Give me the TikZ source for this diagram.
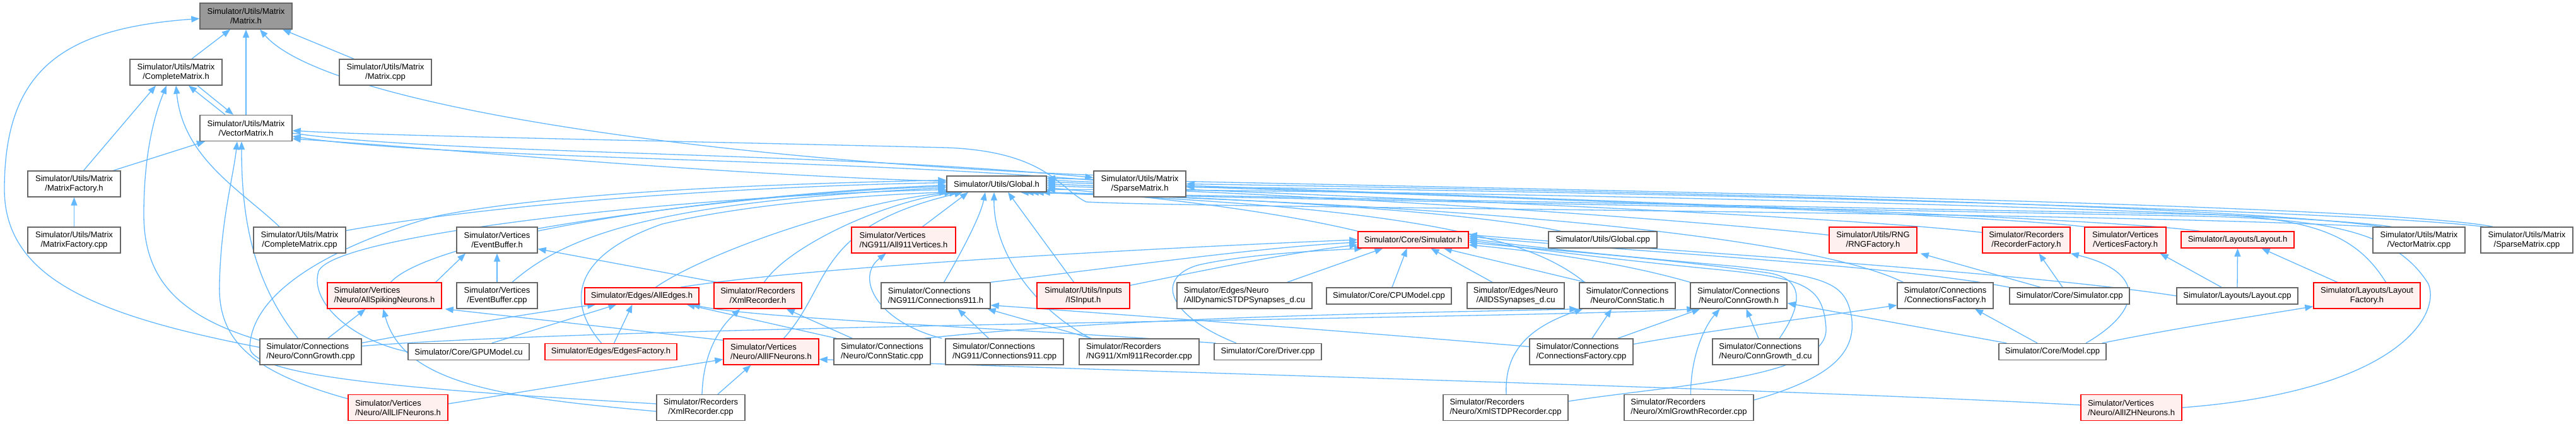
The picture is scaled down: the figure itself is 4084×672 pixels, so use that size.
\documentclass[tikz,border=0pt]{standalone}
\usepackage{fontspec}
\setmainfont{Liberation Sans}
\usetikzlibrary{arrows.meta,calc}
\definecolor{edgec}{HTML}{63B8FF}
\definecolor{boxb}{HTML}{666666}
\definecolor{redb}{HTML}{FF0000}
\definecolor{redf}{HTML}{FFF0F0}
\definecolor{grayf}{HTML}{999999}
\pgfdeclarelayer{edgelayer}
\pgfsetlayers{edgelayer,main}
\begin{document}
\begin{tikzpicture}[x=0.5pt,y=-0.5pt,
  nb/.style={draw=boxb, fill=white, line width=0.7pt, inner sep=0pt, font=\fontsize{6.5}{7.5}\selectfont, align=center, text=black, minimum height=20.5pt},
  rb/.style={nb, draw=redb, fill=redf},
  gb/.style={nb, fill=grayf},
  one/.style={minimum height=13pt},
  L/.style={align=left},
  e/.style={draw=edgec, line width=0.65pt, -{Triangle[length=6.5pt,width=5pt]}},
]
\useasboundingbox (0,0) rectangle (4084,672);

% Row 1-4
\node[gb,minimum width=73pt] (mh) at (390,25.5) {Simulator/Utils/Matrix\\/Matrix.h};
\node[nb,minimum width=73pt] (cmh) at (279,114.5) {Simulator/Utils/Matrix\\/CompleteMatrix.h};
\node[nb,minimum width=73pt] (mcpp) at (611,114.5) {Simulator/Utils/Matrix\\/Matrix.cpp};
\node[nb,minimum width=73pt] (vmh) at (390,203) {Simulator/Utils/Matrix\\/VectorMatrix.h};
\node[nb,minimum width=73.5pt] (mfh) at (117.5,291.5) {Simulator/Utils/Matrix\\/MatrixFactory.h};
\node[nb,one,minimum width=79pt,minimum height=12.5pt] (gh) at (1580,291.5) {Simulator/Utils/Global.h};
\node[nb,minimum width=73pt] (smh) at (1807,291.5) {Simulator/Utils/Matrix\\/SparseMatrix.h};
% Row 5
\node[nb,minimum width=73.5pt] (mfcpp) at (117.5,380.5) {Simulator/Utils/Matrix\\/MatrixFactory.cpp};
\node[nb,minimum width=73pt] (cmcpp) at (475,380.5) {Simulator/Utils/Matrix\\/CompleteMatrix.cpp};
\node[nb,minimum width=64pt] (ebh) at (788,380.5) {Simulator/Vertices\\/EventBuffer.h};
\node[rb,L,minimum width=82.5pt] (a911h) at (1432.5,380.5) {Simulator/Vertices\\/NG911/All911Vertices.h};
\node[rb,one,minimum width=87.5pt] (simh) at (2240.5,380) {Simulator/Core/Simulator.h};
\node[nb,one,minimum width=86pt] (gcpp) at (2541,380) {Simulator/Utils/Global.cpp};
\node[rb,minimum width=69.5pt] (rngh) at (2969.5,380.5) {Simulator/Utils/RNG\\/RNGFactory.h};
\node[rb,minimum width=69.5pt] (rfh) at (3212.5,380.5) {Simulator/Recorders\\/RecorderFactory.h};
\node[rb,minimum width=64.5pt] (vfh) at (3369.5,380.5) {Simulator/Vertices\\/VerticesFactory.h};
\node[rb,one,minimum width=89.5pt] (layh) at (3547.5,380) {Simulator/Layouts/Layout.h};
\node[nb,minimum width=73pt] (vmcpp) at (3835,380.5) {Simulator/Utils/Matrix\\/VectorMatrix.cpp};
\node[nb,minimum width=73pt] (smcpp) at (4006,380.5) {Simulator/Utils/Matrix\\/SparseMatrix.cpp};
% Row 6
\node[rb,L,minimum width=90.5pt] (asnh) at (609.5,468.5) {Simulator/Vertices\\/Neuro/AllSpikingNeurons.h};
\node[nb,minimum width=64pt] (ebcpp) at (788,468.5) {Simulator/Vertices\\/EventBuffer.cpp};
\node[rb,one,minimum width=90.5pt] (aeh) at (1017.5,469) {Simulator/Edges/AllEdges.h};
\node[rb,minimum width=69.5pt] (xrh) at (1201.5,468.5) {Simulator/Recorders\\/XmlRecorder.h};
\node[nb,L,minimum width=86.5pt] (c911h) at (1483.5,468.5) {Simulator/Connections\\/NG911/Connections911.h};
\node[rb,minimum width=73.5pt] (ish) at (1717.5,468.5) {Simulator/Utils/Inputs\\/ISInput.h};
\node[nb,L,minimum width=107pt] (adstdp) at (1973,468.5) {Simulator/Edges/Neuro\\/AllDynamicSTDPSynapses\_d.cu};
\node[nb,one,minimum width=99pt] (cpucpp) at (2202,469) {Simulator/Core/CPUModel.cpp};
\node[nb,minimum width=77pt] (adsd) at (2403,468.5) {Simulator/Edges/Neuro\\/AllDSSynapses\_d.cu};
\node[nb,minimum width=76pt] (csh) at (2580,468.5) {Simulator/Connections\\/Neuro/ConnStatic.h};
\node[nb,minimum width=76.5pt] (cgh) at (2756.5,468.5) {Simulator/Connections\\/Neuro/ConnGrowth.h};
\node[nb,minimum width=76pt] (cfh) at (3084,468.5) {Simulator/Connections\\/ConnectionsFactory.h};
\node[nb,one,minimum width=95pt] (simcpp) at (3281,469) {Simulator/Core/Simulator.cpp};
\node[nb,one,minimum width=96pt] (laycpp) at (3547,469) {Simulator/Layouts/Layout.cpp};
\node[rb,minimum width=84.5pt] (lfh) at (3752.5,468.5) {Simulator/Layouts/Layout\\Factory.h};
% Row 7
\node[nb,L,minimum width=80.5pt] (cgcpp) at (492.5,557.5) {Simulator/Connections\\/Neuro/ConnGrowth.cpp};
\node[nb,one,minimum width=96pt] (gpucu) at (743,557.5) {Simulator/Core/GPUModel.cu};
\node[rb,one,minimum width=104.5pt] (efh) at (968.5,557.5) {Simulator/Edges/EdgesFactory.h};
\node[rb,L,minimum width=75.5pt] (aifh) at (1222.5,557.5) {Simulator/Vertices\\/Neuro/AllIFNeurons.h};
\node[nb,L,minimum width=76.5pt] (cscpp) at (1398.5,557.5) {Simulator/Connections\\/Neuro/ConnStatic.cpp};
\node[nb,L,minimum width=93.5pt] (c911cpp) at (1592.5,557.5) {Simulator/Connections\\/NG911/Connections911.cpp};
\node[nb,L,minimum width=95pt] (x911cpp) at (1806,557.5) {Simulator/Recorders\\/NG911/Xml911Recorder.cpp};
\node[nb,one,minimum width=85pt] (drvcpp) at (2010,557.5) {Simulator/Core/Driver.cpp};
\node[nb,L,minimum width=82pt] (cfcpp) at (2507,557.5) {Simulator/Connections\\/ConnectionsFactory.cpp};
\node[nb,L,minimum width=84pt] (cgdcu) at (2799,557.5) {Simulator/Connections\\/Neuro/ConnGrowth\_d.cu};
\node[nb,one,minimum width=85pt] (modcpp) at (3254,557.5) {Simulator/Core/Model.cpp};
% Row 8
\node[rb,L,minimum width=79pt] (alifh) at (631,646) {Simulator/Vertices\\/Neuro/AllLIFNeurons.h};
\node[nb,minimum width=70pt] (xrcpp) at (1111,646) {Simulator/Recorders\\/XmlRecorder.cpp};
\node[nb,L,minimum width=99pt] (xstdp) at (2387,646) {Simulator/Recorders\\/Neuro/XmlSTDPRecorder.cpp};
\node[nb,L,minimum width=102.5pt] (xgrow) at (2677.5,646) {Simulator/Recorders\\/Neuro/XmlGrowthRecorder.cpp};
\node[rb,L,minimum width=80pt] (aizhh) at (3379,646) {Simulator/Vertices\\/Neuro/AllIZHNeurons.h};

\begin{pgfonlayer}{edgelayer}
\fill[white] (0,0) rectangle (4084,672);
% ---- Matrix cluster
\draw[e] ($(cmh.north)+(25,0)$) -- ($(mh.south)+(-25,0)$);
\draw[e] (vmh.north) -- (mh.south);
\draw[e] ($(mcpp.north)+(-50,0)$) -- ($(mh.south)+(58,0)$);
\draw[e] ($(smh.west)+(0,-14)$) .. controls (1150,255) and (520,170) .. ($(mh.south)+(22,0)$);
\draw[e] ($(cgcpp.west)+(0,-7)$) .. controls (150,500) and (7,440) .. (7,300) .. controls (7,110) and (100,45) .. ($(mh.west)+(0,4)$);
\draw[e] ($(vmh.north)+(-33,0)$) -- ($(cmh.south)+(20,0)$);
\draw[e] ($(cmh.south)+(34,0)$) -- ($(vmh.north)+(-20,0)$);
\draw[e] ($(mfh.north)+(15,0)$) -- ($(cmh.south)+(-32,0)$);
\draw[e] ($(mfh.north)+(62,0)$) -- ($(vmh.south)+(-65,0)$);
\draw[e] ($(cgcpp.north west)+(0,3)$) .. controls (280,500) and (228,440) .. (228,340) .. controls (228,230) and (250,170) .. ($(cmh.south)+(-15,0)$);
\draw[e] ($(cmcpp.north)+(-32,0)$) .. controls (380,300) and (290,250) .. (cmh.south);
\draw[e] (mfcpp.north) -- (mfh.south);
\draw[e] ($(cgcpp.north)+(-20,0)$) .. controls (395,440) and (383,330) .. ($(vmh.south)+(-7,0)$);
\draw[e] ($(alifh.west)+(0,-14)$) .. controls (400,590) and (345,540) .. (348,450) .. controls (350,350) and (370,280) .. ($(vmh.south)+(-14,0)$);
\draw[e] ($(vmh.east)+(0,8)$) .. controls (700,245) and (1300,240) .. ($(smh.west)+(0,-10)$);
\draw[e] ($(smh.west)+(0,-6)$) .. controls (1300,250) and (700,252) .. ($(vmh.east)+(0,13)$);
\draw[e] ($(gh.west)+(0,-4)$) .. controls (1100,275) and (700,235) .. ($(vmh.east)+(0,17)$);
\draw[e] (vmcpp.north west) .. controls (3300,335) and (1900,330) .. (1722,320) .. controls (1680,300) and (1660,240) .. (1500,234) .. controls (1000,222) and (600,215) .. ($(vmh.east)+(0,4)$);
\draw[e] ($(vmcpp.north west)+(15,0)$) .. controls (3500,320) and (2300,298) .. (smh.east);
\draw[e] ($(smcpp.north west)+(5,0)$) .. controls (3700,330) and (2400,300) .. ($(smh.east)+(0,5)$);

% ---- Global.h
\draw[e] ($(cmcpp.east)+(0,-15)$) .. controls (800,320) and (1200,295) .. ($(gh.west)+(0,-2)$);
\draw[e] ($(asnh.north)+(10,0)$) .. controls (680,380) and (1100,310) .. ($(gh.west)+(0,2)$);
\draw[e] ($(ebh.north east)+(0,3)$) .. controls (1100,320) and (1350,300) .. ($(gh.west)+(0,4)$);
\draw[e] ($(ebcpp.north)+(24,0)$) .. controls (900,370) and (1050,320) .. ($(gh.west)+(0,6)$);
\draw[e] ($(efh.north)+(-15,0)$) .. controls (890,470) and (920,400) .. (1050,355) .. controls (1200,320) and (1400,308) .. ($(gh.south west)+(2,0)$);
\draw[e] ($(aeh.north)+(22,0)$) .. controls (1120,400) and (1350,320) .. ($(gh.south west)+(10,0)$);
\draw[e] ($(xrh.north)+(10,0)$) .. controls (1250,390) and (1400,320) .. ($(gh.south west)+(18,0)$);
\draw[e] ($(aifh.north)+(20,0)$) .. controls (1320,450) and (1290,360) .. ($(gh.south west)+(26,0)$);
\draw[e] ($(xrcpp.west)+(0,-6)$) .. controls (700,620) and (395,600) .. (396,550) .. controls (400,450) and (560,380) .. (690,343) .. controls (900,300) and (1300,290) .. ($(gh.west)+(0,-6)$);
\draw[e] (gpucu.west) .. controls (560,540) and (490,480) .. (505,430) .. controls (530,370) and (1100,310) .. ($(gh.west)+(0,9)$);
\draw[e] ($(a911h.north)+(30,0)$) -- ($(gh.south)+(-45,0)$);
\draw[e] ($(c911h.north)+(13,0)$) .. controls (1530,390) and (1555,340) .. ($(gh.south)+(-18,0)$);
\draw[e] ($(x911cpp.north west)+(19,0)$) .. controls (1640,490) and (1575,400) .. ($(gh.south)+(-4,0)$);
\draw[e] ($(ish.north)+(-15,0)$) -- ($(gh.south)+(18,0)$);
\draw[e] (simh.north west) .. controls (2000,330) and (1800,310) .. ($(gh.east)+(0,6)$);
\draw[e] ($(gcpp.north west)+(20,0)$) .. controls (2300,330) and (1900,312) .. ($(gh.south east)+(-8,0)$);
\draw[e] ($(csh.north west)+(9,0)$) .. controls (2440,390) and (2300,330) .. ($(gh.south east)+(-18,0)$);
\draw[e] ($(rngh.west)+(0,-8)$) .. controls (2600,340) and (2000,305) .. ($(gh.east)+(0,3)$);
\draw[e] ($(rfh.west)+(0,-12)$) .. controls (2900,340) and (2000,305) .. (gh.east);
\draw[e] (vfh.north west) .. controls (3100,335) and (2000,300) .. ($(gh.east)+(0,-3)$);
\draw[e] ($(layh.north west)+(30,0)$) .. controls (3300,340) and (2000,300) .. ($(gh.east)+(0,-6)$);
\draw[e] ($(lfh.north)+(30,0)$) .. controls (3740,380) and (3680,345) .. (3500,340) .. controls (3000,330) and (2000,312) .. ($(gh.south east)+(-26,0)$);
\draw[e] (aizhh.east) .. controls (3800,620) and (3870,500) .. (3850,450) .. controls (3800,370) and (3700,348) .. (3500,343) .. controls (3000,333) and (2000,315) .. ($(gh.south east)+(-34,0)$);
\draw[e] ($(cfh.north west)+(10,0)$) .. controls (2900,390) and (2500,330) .. ($(gh.south east)+(-42,0)$);
\draw[e] ($(vmcpp.north west)+(30,0)$) .. controls (3600,330) and (2200,300) .. ($(gh.east)+(0,9)$);
\draw[e] ($(smcpp.north west)+(20,0)$) .. controls (3750,320) and (2200,296) .. ($(gh.east)+(0,-9)$);

% ---- Simulator.h
\draw[e] ($(aeh.north east)+(-30,0)$) .. controls (1300,420) and (1900,390) .. ($(simh.west)+(0,0)$);
\draw[e] (c911h.north east) .. controls (1800,420) and (2000,392) .. ($(simh.west)+(0,4)$);
\draw[e] ($(ish.north east)+(0,5)$) .. controls (1950,420) and (2050,400) .. ($(simh.west)+(0,8)$);
\draw[e] ($(drvcpp.north)+(-50,0)$) .. controls (1850,500) and (1830,440) .. (1900,420) .. controls (1980,402) and (2100,397) .. ($(simh.south west)+(8,0)$);
\draw[e] ($(adstdp.north east)+(-40,0)$) -- ($(simh.south west)+(40,0)$);
\draw[e] ($(cpucpp.north)+(5,0)$) -- ($(simh.south)+(-10,0)$);
\draw[e] ($(adsd.north)+(-37,0)$) -- ($(simh.south)+(28,0)$);
\draw[e] ($(csh.north west)+(10,0)$) -- ($(simh.south east)+(-40,0)$);
\draw[e] (cgh.north west) .. controls (2550,410) and (2400,395) .. ($(simh.east)+(0,8)$);
\draw[e] ($(cgdcu.north)+(22,0)$) .. controls (2860,480) and (2860,440) .. (2800,432) .. controls (2600,405) and (2400,392) .. ($(simh.east)+(0,4)$);
\draw[e] ($(xstdp.east)+(0,-10)$) .. controls (2650,610) and (2900,600) .. (2895,520) .. controls (2890,450) and (2860,440) .. (2700,425) .. controls (2500,405) and (2400,390) .. ($(simh.east)+(0,1)$);
\draw[e] ($(xgrow.east)+(0,-12)$) .. controls (2900,600) and (2945,560) .. (2935,500) .. controls (2925,450) and (2900,438) .. (2750,422) .. controls (2500,400) and (2400,388) .. ($(simh.east)+(0,-2)$);
\draw[e] (simcpp.north west) .. controls (3000,420) and (2600,400) .. ($(simh.east)+(0,-5)$);
\draw[e] (laycpp.west) .. controls (3200,430) and (2600,395) .. ($(simh.east)+(0,-8)$);

% ---- other edges
\draw[e] ($(asnh.north east)+(-10,0)$) -- ($(ebh.south)+(-50,0)$);
\draw[e] (ebcpp.north) -- (ebh.south);
\draw[e] ($(xrh.north west)+(5,0)$) -- ($(ebh.east)+(0,14)$);
\draw[e] ($(cgcpp.north east)+(-54,0)$) -- ($(asnh.south)+(-30,0)$);
\draw[e] ($(xrcpp.west)+(0,6)$) .. controls (800,630) and (640,610) .. ($(asnh.south)+(-2,0)$);
\draw[e] ($(aifh.north west)+(0,3)$) -- ($(asnh.south east)+(5,0)$);
\draw[e] ($(alifh.east)+(0,-6)$) -- ($(aifh.west)+(0,12)$);
\draw[e] ($(xrcpp.north)+(27,0)$) -- ($(aifh.south)+(-32,0)$);
\draw[e] ($(xrcpp.north)+(2,0)$) .. controls (1115,560) and (1140,520) .. ($(xrh.south)+(-28,0)$);
\draw[e] ($(aizhh.west)+(0,-4)$) .. controls (2800,615) and (1800,590) .. ($(aifh.east)+(0,12)$);
\draw[e] ($(cscpp.north west)+(5,0)$) -- ($(aeh.south east)+(-20,0)$);
\draw[e] ($(cscpp.north west)+(30,0)$) -- ($(xrh.south east)+(-25,0)$);
\draw[e] ($(cscpp.north east)+(-10,0)$) .. controls (1800,500) and (2300,495) .. ($(csh.south west)+(-2,0)$);
\draw[e] ($(gpucu.north east)+(-60,0)$) -- ($(aeh.south)+(-40,0)$);
\draw[e] ($(efh.north)+(5,0)$) -- ($(aeh.south)+(-15,0)$);
\draw[e] ($(cgcpp.east)+(0,-14)$) .. controls (700,520) and (850,495) .. ($(aeh.south west)+(18,0)$);
\draw[e] ($(cgcpp.east)+(0,-9)$) .. controls (1000,515) and (2400,505) .. ($(cgh.south west)+(8,0)$);
\draw[e] ($(drvcpp.north west)+(3,0)$) .. controls (1600,520) and (1200,505) .. ($(aeh.south east)+(-12,0)$);
\draw[e] ($(c911cpp.north)+(-25,0)$) -- ($(c911h.south)+(35,0)$);
\draw[e] ($(c911cpp.north west)+(-5,0)$) .. controls (1390,510) and (1355,440) .. ($(a911h.south)+(-28,0)$);
\draw[e] ($(x911cpp.north west)+(20,0)$) -- ($(c911h.south east)+(-5,0)$);
\draw[e] ($(cfcpp.west)+(0,-8)$) .. controls (2200,530) and (1800,500) .. ($(c911h.south east)+(0,-6)$);
\draw[e] ($(cfcpp.north)+(17,0)$) -- ($(csh.south)+(-25,0)$);
\draw[e] ($(cfcpp.north east)+(-25,0)$) -- ($(cgh.south west)+(16,0)$);
\draw[e] ($(cfcpp.east)+(0,-12)$) .. controls (2700,525) and (2900,500) .. ($(cfh.south west)+(0,-6)$);
\draw[e] ($(xstdp.north)+(1,0)$) .. controls (2385,560) and (2420,520) .. ($(csh.south west)+(6,0)$);
\draw[e] ($(xgrow.north)+(3,0)$) .. controls (2680,570) and (2700,520) .. ($(cgh.south)+(-30,0)$);
\draw[e] ($(cgdcu.north)+(-11,0)$) -- ($(cgh.south)+(12,0)$);
\draw[e] ($(modcpp.north west)+(13,0)$) -- ($(cgh.east)+(0,12)$);
\draw[e] ($(modcpp.north)+(-24,0)$) -- ($(cfh.south)+(47,0)$);
\draw[e] ($(modcpp.north)+(53,0)$) .. controls (3400,490) and (3400,430) .. (rfh.south east);
\draw[e] ($(modcpp.north east)+(-7,0)$) .. controls (3450,520) and (3550,505) .. ($(lfh.south west)+(0,-4)$);
\draw[e] ($(simcpp.north)+(-46,0)$) -- ($(rngh.south east)+(5,0)$);
\draw[e] ($(simcpp.north)+(-11,0)$) -- ($(rfh.south)+(20,0)$);
\draw[e] ($(laycpp.north)+(-25,0)$) -- ($(vfh.south east)+(-10,0)$);
\draw[e] (laycpp.north) -- (layh.south);
\draw[e] ($(lfh.north)+(-47,0)$) -- ($(layh.south)+(38,0)$);
\end{pgfonlayer}
\end{tikzpicture}
\end{document}
